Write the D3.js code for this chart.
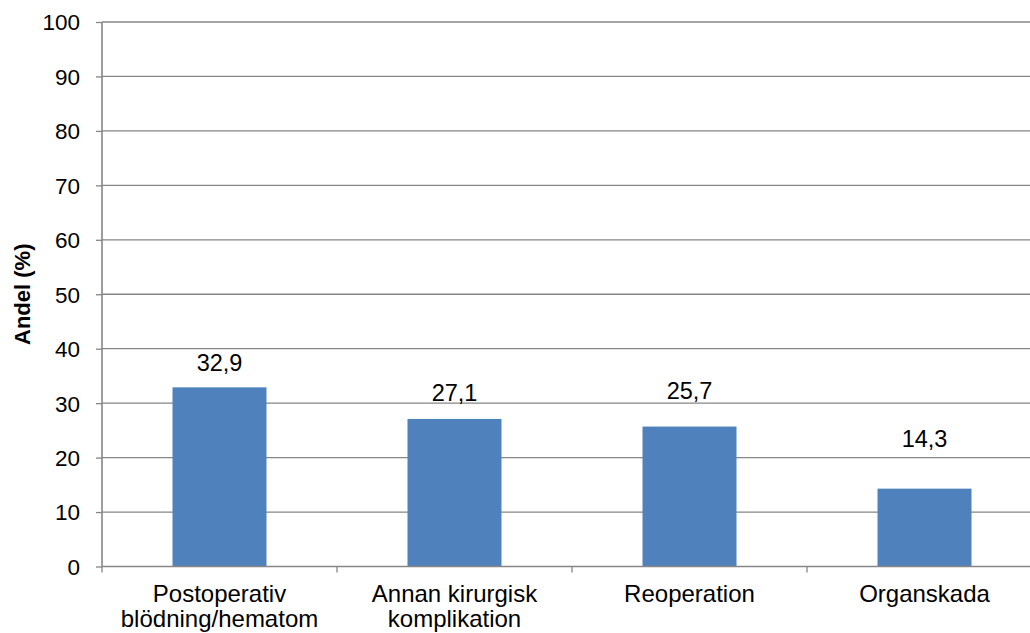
<!DOCTYPE html>
<html>
<head>
<meta charset="utf-8">
<script src="https://cdn.jsdelivr.net/npm/d3@7"></script>
<style>
  html, body { margin: 0; padding: 0; background: #ffffff; }
  svg { display: block; font-family: Arial, "Liberation Sans", sans-serif; }
</style>
</head>
<body>
<svg id="chart" width="1030" height="633"></svg>
<script>
// Komplikationstyper, andel (%)
const categories = [
  ["Postoperativ", "blödning/hematom"],
  ["Annan kirurgisk", "komplikation"],
  ["Reoperation"],
  ["Organskada"]
];
const values = [32.9, 27.1, 25.7, 14.3];
const valueLabels = ["32,9", "27,1", "25,7", "14,3"];
const yTicks = [0, 10, 20, 30, 40, 50, 60, 70, 80, 90, 100];
const yTitle = "Andel (%)";

// Layout
const plotLeft = 102, plotRight = 1042, plotTop = 22, plotBottom = 566.5;
const labelLift = [16, 17.5, 27.5, 42]; // distance from bar top to value label baseline
const tickFont = 22.5, valueFont = 23.5, catFont = 24;
const gray = "#868686";
const barColor = "#4F81BD";

const svg = d3.select("#chart");

const x = d3.scaleBand()
  .domain(d3.range(categories.length))
  .range([plotLeft, plotRight])
  .paddingInner(0.6)
  .paddingOuter(0.3);

const y = d3.scaleLinear().domain([0, 100]).range([plotBottom, plotTop]);

// Horizontal gridlines
svg.append("g")
  .selectAll("line")
  .data(yTicks.filter(d => d > 0))
  .join("line")
  .attr("x1", plotLeft).attr("x2", 1030)
  .attr("y1", d => y(d)).attr("y2", d => y(d))
  .attr("stroke", gray).attr("stroke-width", 1.3);

// Bars
svg.append("g")
  .selectAll("rect")
  .data(values)
  .join("rect")
  .attr("x", (d, i) => x(i))
  .attr("width", x.bandwidth())
  .attr("y", d => y(d))
  .attr("height", d => y(0) - y(d))
  .attr("fill", barColor);

// Value labels
svg.append("g")
  .selectAll("text")
  .data(values)
  .join("text")
  .attr("x", (d, i) => x(i) + x.bandwidth() / 2)
  .attr("y", (d, i) => y(d) - labelLift[i])
  .attr("text-anchor", "middle")
  .attr("font-size", valueFont)
  .attr("fill", "#000")
  .text((d, i) => valueLabels[i]);

// Y axis
const yAxis = svg.append("g")
  .attr("transform", `translate(${plotLeft},0)`)
  .call(d3.axisLeft(y).tickValues(yTicks).tickSize(6).tickPadding(16).tickFormat(d3.format("d")));
yAxis.select(".domain").attr("stroke", gray).attr("stroke-width", 1.6)
  .attr("d", `M0,${plotTop}V${plotBottom}`);
yAxis.selectAll(".tick line").attr("stroke", gray).attr("stroke-width", 1.3);
yAxis.selectAll(".tick text")
  .attr("font-size", tickFont)
  .attr("font-family", "Arial, 'Liberation Sans', sans-serif")
  .attr("fill", "#000")
  .attr("dy", "0.35em");

// X axis line and category separators
const xAxis = svg.append("g");
xAxis.append("line")
  .attr("x1", plotLeft).attr("x2", 1030)
  .attr("y1", plotBottom).attr("y2", plotBottom)
  .attr("stroke", gray).attr("stroke-width", 1.6);
const bounds = d3.range(categories.length).map(i => x(i) - x.step() * x.paddingInner() / 2);
bounds[0] = plotLeft;
xAxis.selectAll("line.sep")
  .data(bounds)
  .join("line")
  .attr("class", "sep")
  .attr("x1", d => d).attr("x2", d => d)
  .attr("y1", plotBottom).attr("y2", plotBottom + 6)
  .attr("stroke", gray).attr("stroke-width", 1.3);

// Category labels
const catG = svg.append("g")
  .selectAll("text")
  .data(categories)
  .join("text")
  .attr("x", (d, i) => x(i) + x.bandwidth() / 2)
  .attr("y", 602)
  .attr("text-anchor", "middle")
  .attr("font-size", catFont)
  .attr("fill", "#000");
catG.selectAll("tspan")
  .data(d => d)
  .join("tspan")
  .attr("x", function () { return this.parentNode.getAttribute("x"); })
  .attr("dy", (d, j) => j === 0 ? 0 : 25)
  .text(d => d);

// Y axis title
svg.append("text")
  .attr("transform", `translate(30,${(plotTop + plotBottom) / 2}) rotate(-90)`)
  .attr("text-anchor", "middle")
  .attr("font-size", 22)
  .attr("font-weight", "bold")
  .attr("fill", "#000")
  .text(yTitle);
</script>
</body>
</html>
